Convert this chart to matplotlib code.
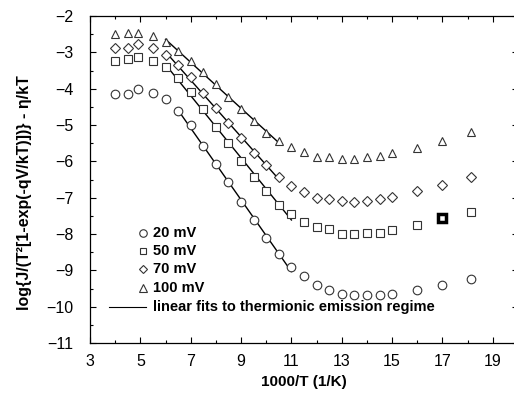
import numpy as np
import matplotlib
matplotlib.use("Agg")
import matplotlib.pyplot as plt
from matplotlib.ticker import MultipleLocator, FixedLocator

plt.rcParams['font.family'] = ['Liberation Sans', 'DejaVu Sans']

inv_T = [4, 4.5, 4.9, 5.5, 6, 6.5, 7, 7.5, 8, 8.5, 9, 9.5, 10, 10.5, 11,
         11.5, 12, 12.5, 13, 13.5, 14, 14.5, 15, 16, 17, 18.15]

y_20mV = [-4.16, -4.16, -4.02, -4.13, -4.29, -4.62, -5.01, -5.57, -6.06, -6.56,
          -7.11, -7.62, -8.10, -8.56, -8.92, -9.16, -9.39, -9.53, -9.64, -9.69,
          -9.69, -9.67, -9.64, -9.55, -9.39, -9.23]
y_50mV = [-3.24, -3.19, -3.14, -3.23, -3.40, -3.72, -4.10, -4.57, -5.05, -5.49,
          -5.99, -6.43, -6.81, -7.21, -7.46, -7.68, -7.82, -7.85, -7.99, -8.00,
          -7.97, -7.96, -7.88, -7.74, -7.57, -7.39]
y_70mV = [-2.89, -2.88, -2.78, -2.89, -3.07, -3.35, -3.69, -4.13, -4.52, -4.94,
          -5.37, -5.78, -6.11, -6.44, -6.68, -6.84, -7.00, -7.04, -7.10, -7.11,
          -7.10, -7.05, -6.98, -6.81, -6.64, -6.43]
y_100mV = [-2.50, -2.48, -2.46, -2.55, -2.71, -2.96, -3.23, -3.53, -3.88, -4.22,
           -4.57, -4.89, -5.21, -5.45, -5.60, -5.74, -5.88, -5.89, -5.94, -5.94,
           -5.89, -5.86, -5.78, -5.62, -5.44, -5.20]

labels = ["20 mV", "50 mV", "70 mV", "100 mV"]
markers = ["o", "s", "D", "^"]
msizes = [6.2, 5.4, 4.6, 6.2]
fit_ranges = [(6.5, 11), (6, 11), (6, 10.5), (6, 10.5)]
highlight_x = 17  # bold square in the 50 mV series
fit_label = "linear fits to thermionic emission regime"
x_ticks = [3, 5, 7, 9, 11, 13, 15, 17, 19]

W, H = 514, 394
fig = plt.figure(figsize=(W / 100, H / 100), dpi=100)
x_left, x_right = 90, 518
y_top, y_bot = 16, 343
ax = fig.add_axes([x_left / W, (H - y_bot) / H, (x_right - x_left) / W, (y_bot - y_top) / H])

x = np.array(inv_T)
series = [y_20mV, y_50mV, y_70mV, y_100mV]
for ys, m, ms, (a, b) in zip(series, markers, msizes, fit_ranges):
    ys = np.array(ys)
    ax.plot(x, ys, linestyle='none', marker=m, ms=ms, mfc='white', mec='#333333', mew=0.8, zorder=3)
    sel = (x >= a) & (x <= b)
    p = np.polyfit(x[sel], ys[sel], 1)
    xx = np.array([a, b])
    ax.plot(xx, np.polyval(p, xx), color='black', lw=1.0, zorder=2)

hi = np.where(np.isclose(x, highlight_x))[0][0]
ax.plot(x[hi], y_50mV[hi], linestyle='none', marker='s', ms=6.2, mfc='white', mec='black', mew=2.5, zorder=4)

ax.set_xlim(3, 20)
ax.set_ylim(-11, -2)
ax.xaxis.set_major_locator(FixedLocator(x_ticks))
ax.xaxis.set_minor_locator(MultipleLocator(1))
ax.yaxis.set_major_locator(MultipleLocator(1))
ax.yaxis.set_minor_locator(MultipleLocator(0.5))
ax.tick_params(which='both', direction='in', top=True, right=True, labelsize=11.5, width=0.8)
ax.tick_params(which='major', length=4, pad=8)
ax.tick_params(which='minor', length=2)
ax.tick_params(axis='y', pad=12)
for s in ax.spines.values():
    s.set_linewidth(0.9)

ax.set_xlabel("1000/T (1/K)", fontsize=11, fontweight='bold', labelpad=4)
ax.set_ylabel("log{J/(T²[1-exp(-qV/kT)])} - η/kT", fontsize=11.5, fontweight='bold')
ax.yaxis.set_label_coords(-0.135, 0.46)

# manual legend
rows = [0.337, 0.281, 0.225, 0.167]
for lab, m, ms, ry in zip(labels, markers, msizes, rows):
    ax.plot([0.124], [ry], transform=ax.transAxes, marker=m, ms=ms - 0.8, mfc='white', mec='#333333',
            mew=0.8, linestyle='none', clip_on=False)
    ax.text(0.147, ry, lab, transform=ax.transAxes, fontsize=10.5, fontweight='bold', va='center', ha='left')
ax.plot([0.044, 0.131], [0.111, 0.111], transform=ax.transAxes, color='black', lw=0.8)
ax.text(0.147, 0.111, fit_label, transform=ax.transAxes, fontsize=10.5, fontweight='bold', va='center', ha='left')

fig.savefig("out.png", dpi=100)
